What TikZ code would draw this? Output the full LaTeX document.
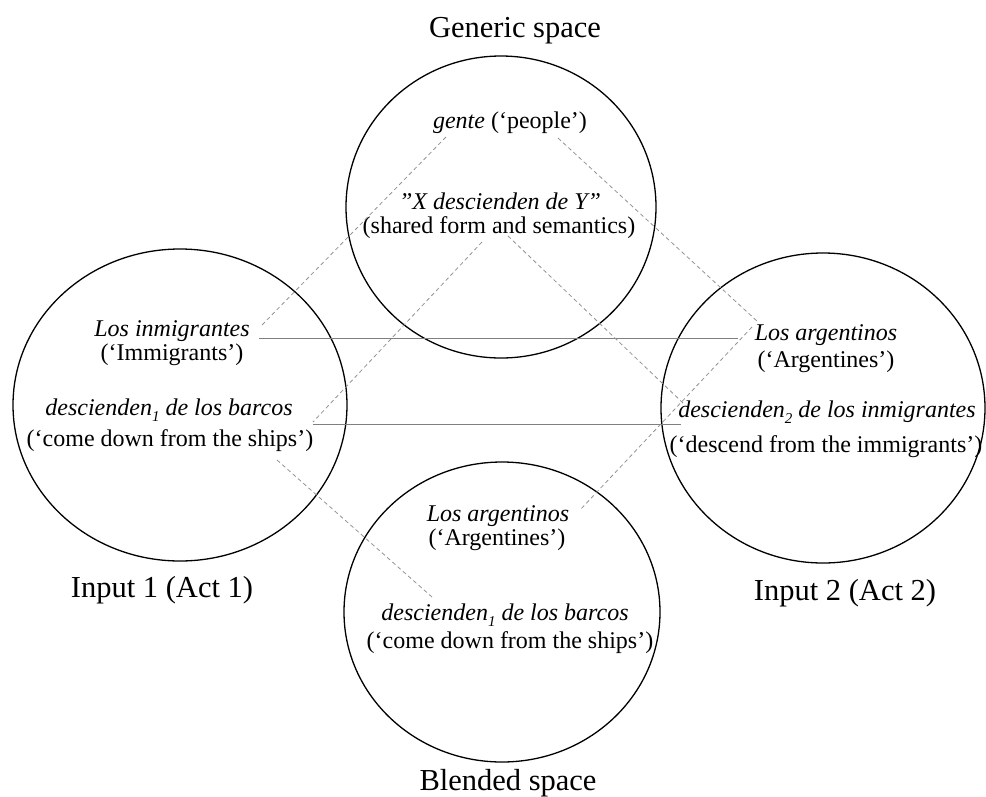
\documentclass[tikz,border=0pt]{standalone}
\usepackage{fontspec}
\setmainfont{Liberation Serif}
\usetikzlibrary{shapes.geometric}
\newcommand\subnum[1]{\raisebox{-0.55ex}{\fontsize{15}{15}\selectfont #1}}
\begin{document}
\begin{tikzpicture}[x=1pt,y=-1pt,
  spacecirc/.style={draw=black, line width=1.3pt, ellipse, inner sep=0pt},
  lbl/.style={anchor=base, inner sep=0pt, font=\fontsize{24}{25}\selectfont},
  ttl/.style={anchor=base, inner sep=0pt, font=\fontsize{30.5}{32}\selectfont},
  mapline/.style={draw=gray!85, line width=0.8pt, dash pattern=on 4pt off 3pt},
  linkline/.style={draw=gray, line width=1pt}]
\useasboundingbox (0,0) rectangle (986,796);

% spaces
\node[spacecirc, minimum width=310pt, minimum height=302pt] (generic) at (501,207) {};
\node[spacecirc, minimum width=334pt, minimum height=312pt] (input1) at (180,405) {};
\node[spacecirc, minimum width=324pt, minimum height=310pt] (input2) at (823,408) {};
\node[spacecirc, minimum width=316pt, minimum height=300pt] (blend) at (502,612) {};

% generic space
\node[ttl] (gtitle) at (515,37) {Generic space};
\node[lbl] (gente) at (510,128) {\textit{gente} (‘people’)};
\node[lbl] (xdesc) at (500,209) {\textit{”X descienden de Y”}};
\node[lbl] (shared) at (499,233) {(shared form and semantics)};

% input 1
\node[lbl] (inm) at (172,336) {\textit{Los inmigrantes}};
\node[lbl] (inmgl) at (172,360) {(‘Immigrants’)};
\node[lbl] (desc1) at (169,415) {\textit{descienden\subnum{1} de los barcos}};
\node[lbl] (desc1gl) at (170,446) {(‘come down from the ships’)};
\node[ttl] (in1title) at (162,597) {Input 1 (Act 1)};

% input 2
\node[lbl] (arg) at (826,340) {\textit{Los argentinos}};
\node[lbl] (arggl) at (826,367) {(‘Argentines’)};
\node[lbl] (desc2) at (827,417) {\textit{descienden\subnum{2} de los inmigrantes}};
\node[lbl] (desc2gl) at (826,452) {(‘descend from the immigrants’)};
\node[ttl] (in2title) at (845,600) {Input 2 (Act 2)};

% blended space
\node[lbl] (barg) at (498,521) {\textit{Los argentinos}};
\node[lbl] (barggl) at (497,545) {(‘Argentines’)};
\node[lbl] (bdesc) at (505,620) {\textit{descienden\subnum{1} de los barcos}};
\node[lbl] (bdescgl) at (510,648) {(‘come down from the ships’)};
\node[ttl] (btitle) at (508,790) {Blended space};

% connector end points
\coordinate (genteL) at (446,137);
\coordinate (genteR) at (558,138);
\coordinate (xdescL) at (482,242);
\coordinate (xdescR) at (508,236);
\coordinate (inmE) at (262,325);
\coordinate (inmLink) at (259,338);
\coordinate (argW) at (758,322);
\coordinate (argLink) at (738,338);
\coordinate (argSW) at (752,327);
\coordinate (desc1E) at (313,422);
\coordinate (desc1Link) at (313,424);
\coordinate (desc2Link) at (681,424);
\coordinate (desc2W) at (683,403);
\coordinate (desc1glE) at (277,460);
\coordinate (bargE) at (580,510);
\coordinate (bdescW) at (432,597);

% cross-space mappings
\draw[linkline] (inmLink) -- (argLink);
\draw[linkline] (desc1Link) -- (desc2Link);

\draw[mapline] (genteL) -- (inmE);
\draw[mapline] (genteR) -- (argW);
\draw[mapline] (xdescL) -- (desc1E);
\draw[mapline] (xdescR) -- (desc2W);
\draw[mapline] (argSW) -- (bargE);
\draw[mapline] (desc1glE) -- (bdescW);
\end{tikzpicture}
\end{document}
